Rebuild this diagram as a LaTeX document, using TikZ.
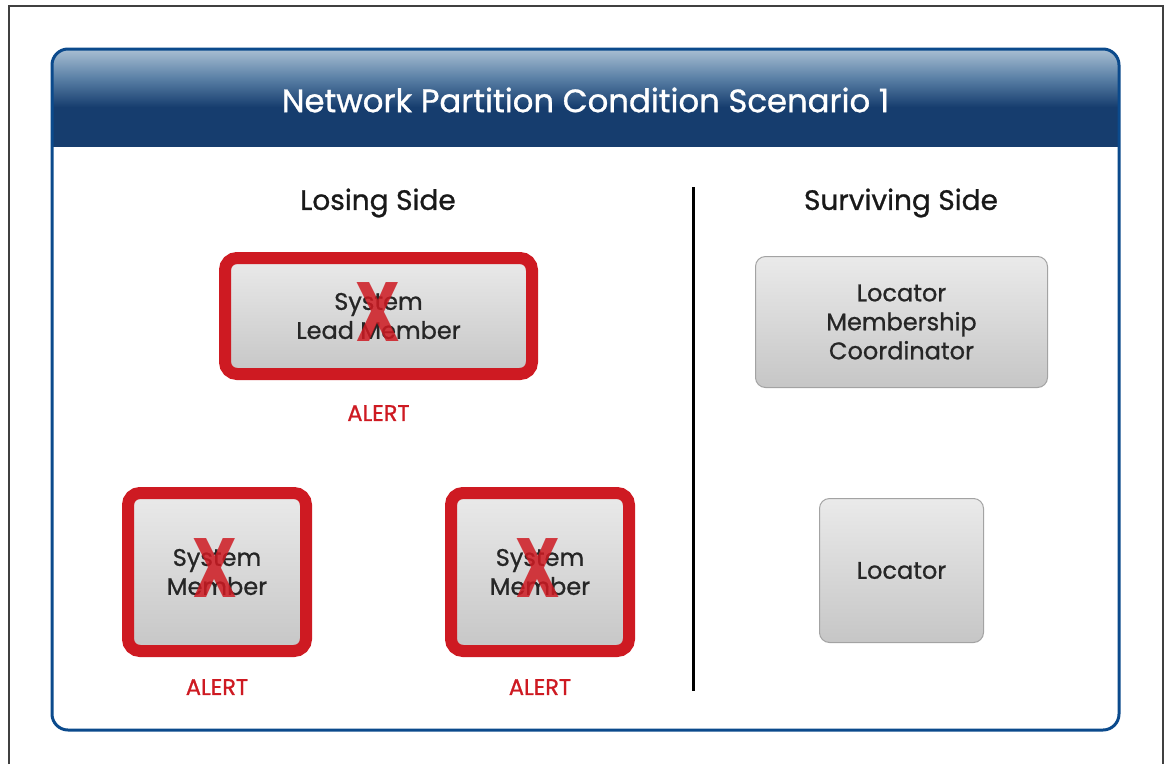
\documentclass[tikz,border=0pt]{standalone}
\usepackage{fontspec}
\setmainfont{Poppins}
\newfontfamily\medfont{Poppins}[FakeBold=0.9]
\usetikzlibrary{positioning}
\definecolor{frame-blue}{HTML}{0B4A8C}
\definecolor{head-light}{HTML}{A9BFD3}
\definecolor{head-mid}{HTML}{5A80A6}
\definecolor{head-dark}{HTML}{163D6E}
\definecolor{alert-red}{HTML}{CE1A22}
\definecolor{box-top}{HTML}{EAEAEA}
\definecolor{box-bottom}{HTML}{C6C6C6}
\definecolor{box-edge}{HTML}{A3A3A3}
\pgfdeclareverticalshading{head-shade}{100bp}{color(0bp)=(head-dark); color(25bp)=(head-dark); color(45bp)=(head-dark); color(60bp)=(head-mid); color(75bp)=(head-light); color(100bp)=(head-light)}
\tikzset{
  title-text/.style = {text=white, inner sep=0pt, font=\medfont\fontsize{32.3}{36}\selectfont},
  side-text/.style  = {text=black!90, inner sep=0pt, font=\medfont\fontsize{28}{32}\selectfont},
  live-box/.style   = {rectangle, rounded corners=10pt, draw=box-edge, line width=1pt,
                       top color=box-top, bottom color=box-bottom, inner sep=0pt,
                       align=center, text=black!85, font=\medfont\fontsize{24}{29}\selectfont},
  dead-box/.style   = {live-box, draw=alert-red, line width=12pt, rounded corners=12pt},
  alert-text/.style = {text=alert-red, inner sep=0pt, font=\medfont\fontsize{22.5}{26}\selectfont},
  cross/.style      = {text=alert-red, text opacity=0.85, inner sep=0pt,
                       font=\fontsize{84}{84}\selectfont\bfseries},
}

\begin{document}
\begin{tikzpicture}[x=1pt, y=-1pt]
  \useasboundingbox (0,0) rectangle (1168,764);
  \draw[black!75, line width=1.5pt] (9,764) -- (9,6) -- (1163,6) -- (1163,764);

  \fill[white, rounded corners=16pt] (52,49) rectangle (1119,730);
  \begin{scope}
    \clip[rounded corners=16pt] (52,49) rectangle (1119,730);
    \shade[shading=head-shade] (52,49) rectangle (1119,146);
  \end{scope}
  \draw[frame-blue, line width=3pt, rounded corners=16pt] (52,49) rectangle (1119,730);

  \node [title-text] (title) at (585.5,100) {Network Partition Condition Scenario 1};
  \node [side-text] (losing) at (378,203) {Losing Side};
  \node [side-text] (surviving) at (901,203) {Surviving Side};
  \draw[black, line width=3pt] (693,187) -- (693,691);

  \node [dead-box, minimum width=307pt, minimum height=116pt] (lead) at (378.5,316) {System\\Lead Member};
  \node [dead-box, minimum width=178pt, minimum height=158pt] (member-a) at (217,572) {System\\Member};
  \node [dead-box, minimum width=178pt, minimum height=158pt] (member-b) at (540,572) {System\\Member};

  \node [cross] at (378.5,312.5) {\scalebox{0.75}[1]{X}};
  \node [cross] at (215.5,568) {\scalebox{0.75}[1]{X}};
  \node [cross] at (538.5,568) {\scalebox{0.75}[1]{X}};

  \node [alert-text, below=25pt of lead] (alert-lead) {ALERT};
  \node [alert-text, below=22pt of member-a] (alert-a) {ALERT};
  \node [alert-text, below=22pt of member-b] (alert-b) {ALERT};

  \node [live-box, minimum width=292pt, minimum height=131pt] (coordinator) at (901.5,322) {Locator\\Membership\\Coordinator};
  \node [live-box, minimum width=164pt, minimum height=144pt] (locator) at (901.5,570.5) {Locator};
\end{tikzpicture}
\end{document}
